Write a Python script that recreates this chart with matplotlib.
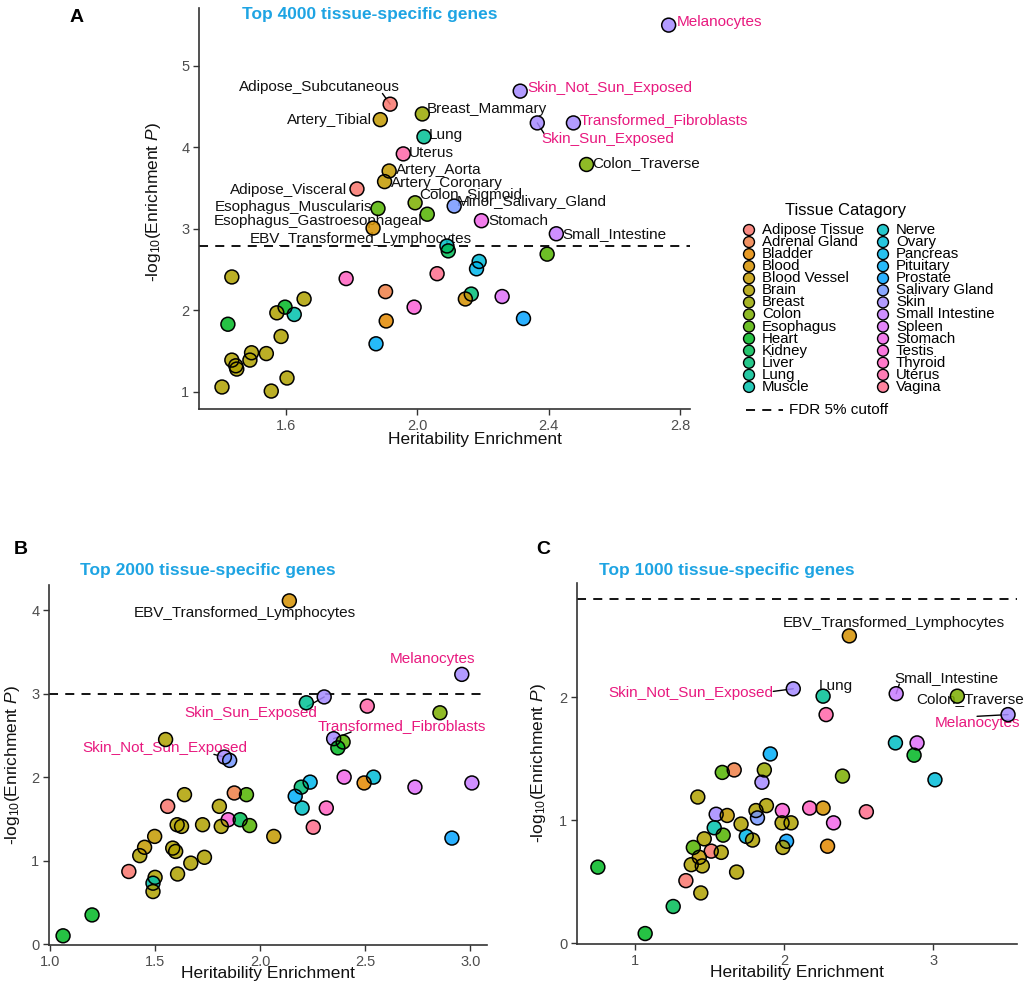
import numpy as np
import matplotlib
matplotlib.use("Agg")
import matplotlib.pyplot as plt

plt.rcParams['font.family'] = ['Liberation Sans', 'DejaVu Sans']
plt.rcParams['mathtext.fontset'] = 'custom'
plt.rcParams['mathtext.rm'] = 'Liberation Sans'
plt.rcParams['mathtext.it'] = 'Liberation Sans:italic'

categories = ['Adipose Tissue', 'Adrenal Gland', 'Bladder', 'Blood', 'Blood Vessel',
              'Brain', 'Breast', 'Colon', 'Esophagus', 'Heart', 'Kidney', 'Liver',
              'Lung', 'Muscle', 'Nerve', 'Ovary', 'Pancreas', 'Pituitary', 'Prostate',
              'Salivary Gland', 'Skin', 'Small Intestine', 'Spleen', 'Stomach',
              'Testis', 'Thyroid', 'Uterus', 'Vagina']

# ---- panel A: top 4000 tissue-specific genes ----
a_name = ['Melanocytes', 'Skin_Not_Sun_Exposed', 'Transformed_Fibroblasts', 'Skin_Sun_Exposed',
          'Colon_Traverse', 'Adipose_Subcutaneous', 'Breast_Mammary', 'Artery_Tibial', 'Lung',
          'Uterus', 'Artery_Aorta', 'Artery_Coronary', 'Adipose_Visceral', 'Colon_Sigmoid',
          'Minor_Salivary_Gland', 'Esophagus_Muscularis', 'Esophagus_Gastroesophageal', 'Stomach',
          'EBV_Transformed_Lymphocytes', 'Small_Intestine'] + [''] * 31
a_cat = ['Skin', 'Skin', 'Skin', 'Skin', 'Colon', 'Adipose Tissue', 'Breast', 'Blood Vessel',
         'Lung', 'Uterus', 'Blood Vessel', 'Blood Vessel', 'Adipose Tissue', 'Colon',
         'Salivary Gland', 'Esophagus', 'Esophagus', 'Stomach', 'Blood', 'Small Intestine',
         'Nerve', 'Kidney', 'Esophagus', 'Ovary', 'Pancreas', 'Vagina', 'Thyroid', 'Brain',
         'Adrenal Gland', 'Liver', 'Blood', 'Spleen', 'Brain', 'Heart', 'Brain', 'Muscle',
         'Testis', 'Prostate', 'Bladder', 'Heart', 'Brain', 'Pituitary', 'Brain', 'Brain',
         'Brain', 'Brain', 'Brain', 'Brain', 'Brain', 'Brain', 'Brain']
a_x = [2.765, 2.313, 2.475, 2.365, 2.515, 1.917, 2.015, 1.887, 2.02, 1.957, 1.914, 1.90,
       1.816, 1.993, 2.112, 1.88, 2.03, 2.195, 1.865, 2.423,
       2.09, 2.094, 2.395, 2.188, 2.18, 2.06, 1.783, 1.435, 1.903, 2.164, 2.146, 2.258,
       1.655, 1.597, 1.572, 1.625, 1.99, 2.323, 1.905, 1.423, 1.585, 1.874, 1.495, 1.54,
       1.435, 1.49, 1.447, 1.45, 1.603, 1.405, 1.555]
a_y = [5.50, 4.69, 4.30, 4.30, 3.79, 4.53, 4.41, 4.34, 4.13, 3.92, 3.71, 3.58, 3.49, 3.32,
       3.28, 3.25, 3.18, 3.10, 3.01, 2.94,
       2.79, 2.73, 2.69, 2.60, 2.51, 2.45, 2.39, 2.41, 2.23, 2.20, 2.14, 2.17, 2.14, 2.04,
       1.97, 1.95, 2.04, 1.90, 1.87, 1.83, 1.68, 1.59, 1.48, 1.47, 1.39, 1.39, 1.32, 1.28,
       1.17, 1.06, 1.01]
a_cutoff = 2.79

# ---- panel B: top 2000 tissue-specific genes ----
b_name = ['EBV_Transformed_Lymphocytes', 'Melanocytes', 'Skin_Sun_Exposed',
          'Transformed_Fibroblasts', 'Skin_Not_Sun_Exposed'] + [''] * 46
b_cat = ['Blood', 'Skin', 'Skin', 'Skin', 'Skin',
         'Lung', 'Uterus', 'Colon', 'Brain', 'Esophagus', 'Heart', 'Salivary Gland', 'Stomach',
         'Ovary', 'Bladder', 'Spleen', 'Small Intestine', 'Pancreas', 'Liver', 'Pituitary',
         'Nerve', 'Thyroid', 'Vagina', 'Prostate', 'Adrenal Gland', 'Esophagus', 'Kidney',
         'Esophagus', 'Testis', 'Blood Vessel', 'Adipose Tissue', 'Adipose Tissue', 'Heart',
         'Heart', 'Brain', 'Blood Vessel', 'Blood Vessel', 'Brain', 'Muscle', 'Brain', 'Brain',
         'Brain', 'Brain', 'Brain', 'Brain', 'Brain', 'Brain', 'Brain', 'Brain', 'Brain', 'Brain']
b_x = [2.139, 2.96, 2.305, 2.35, 1.83,
       2.22, 2.51, 2.856, 1.55, 2.395, 2.37, 1.855, 2.40, 2.54, 2.495, 2.737, 3.008, 2.238,
       2.196, 2.167, 2.2, 2.315, 2.253, 2.913, 1.877, 1.935, 1.905, 1.95, 1.848, 2.065, 1.56,
       1.375, 1.062, 1.2, 1.427, 1.45, 1.498, 1.5, 1.49, 1.49, 1.584, 1.598, 1.607, 1.605,
       1.626, 1.64, 1.67, 1.726, 1.735, 1.806, 1.815]
b_y = [4.11, 3.23, 2.96, 2.46, 2.24,
       2.89, 2.85, 2.77, 2.45, 2.42, 2.35, 2.20, 2.00, 2.00, 1.93, 1.88, 1.93, 1.94, 1.88,
       1.77, 1.63, 1.63, 1.40, 1.27, 1.81, 1.79, 1.49, 1.42, 1.49, 1.29, 1.65, 0.87, 0.10,
       0.35, 1.06, 1.16, 1.29, 0.80, 0.73, 0.63, 1.15, 1.11, 0.84, 1.43, 1.41, 1.79, 0.97,
       1.43, 1.04, 1.65, 1.41]
b_cutoff = 3.0

# ---- panel C: top 1000 tissue-specific genes ----
c_name = ['EBV_Transformed_Lymphocytes', 'Skin_Not_Sun_Exposed', 'Lung', 'Small_Intestine',
          'Colon_Traverse', 'Melanocytes'] + [''] * 45
c_cat = ['Blood', 'Skin', 'Lung', 'Small Intestine', 'Colon', 'Skin',
         'Uterus', 'Nerve', 'Spleen', 'Heart', 'Ovary', 'Pituitary', 'Colon', 'Esophagus',
         'Adrenal Gland', 'Breast', 'Skin', 'Brain', 'Heart', 'Heart', 'Kidney',
         'Adipose Tissue', 'Brain', 'Brain', 'Blood Vessel', 'Brain', 'Esophagus',
         'Adipose Tissue', 'Brain', 'Brain', 'Muscle', 'Esophagus', 'Skin', 'Blood Vessel',
         'Brain', 'Brain', 'Pancreas', 'Brain', 'Brain', 'Salivary Gland', 'Brain', 'Testis',
         'Brain', 'Brain', 'Prostate', 'Brain', 'Thyroid', 'Blood', 'Stomach', 'Bladder',
         'Vagina']
c_x = [2.436, 2.06, 2.26, 2.75, 3.16, 3.50,
       2.28, 2.745, 2.89, 2.87, 3.01, 1.906, 2.39, 1.584, 1.664, 1.866, 1.85, 1.42, 0.75,
       1.067, 1.255, 1.34, 1.44, 1.376, 1.43, 1.45, 1.39, 1.51, 1.577, 1.463, 1.53, 1.59,
       1.543, 1.617, 1.68, 1.71, 1.745, 1.787, 1.81, 1.82, 1.88, 1.987, 1.985, 2.045, 2.015,
       1.99, 2.17, 2.26, 2.33, 2.29, 2.55]
c_y = [2.50, 2.07, 2.01, 2.03, 2.01, 1.86,
       1.86, 1.63, 1.63, 1.53, 1.33, 1.54, 1.36, 1.39, 1.41, 1.41, 1.31, 1.19, 0.62, 0.08,
       0.30, 0.51, 0.41, 0.64, 0.70, 0.63, 0.78, 0.75, 0.74, 0.85, 0.94, 0.88, 1.05, 1.04,
       0.58, 0.97, 0.87, 0.84, 1.08, 1.02, 1.12, 1.08, 0.98, 0.98, 0.83, 0.78, 1.10, 1.10,
       0.98, 0.79, 1.07]
c_cutoff = 2.80


def hcl_hex(h, c=100.0, l=65.0):
    # ggplot2 hue palette colour (polar Luv -> sRGB)
    xn, yn, zn = 95.047, 100.0, 108.883
    un = 4 * xn / (xn + 15 * yn + 3 * zn)
    vn = 9 * yn / (xn + 15 * yn + 3 * zn)
    u = c * np.cos(np.deg2rad(h))
    v = c * np.sin(np.deg2rad(h))
    Y = yn * ((l + 16) / 116) ** 3
    up = u / (13 * l) + un
    vp = v / (13 * l) + vn
    X = 9 * Y * up / (4 * vp)
    Z = (9 * Y / vp - X - 15 * Y) / 3
    m = np.array([[3.2404542, -1.5371385, -0.4985314],
                  [-0.9692660, 1.8760108, 0.0415560],
                  [0.0556434, -0.2040259, 1.0572252]])
    rgb = m @ (np.array([X, Y, Z]) / 100)
    rgb = np.where(rgb <= 0.0031308, 12.92 * rgb, 1.055 * np.abs(rgb) ** (1 / 2.4) - 0.055)
    return tuple(np.clip(rgb, 0, 1))


palette = [hcl_hex(h) for h in np.linspace(15, 375, len(categories) + 1)[:-1]]
pink = '#e8197f'
point_alpha = 0.85

# label layout: name -> (dx px, dy px, ha, leader line start on the text box or None)
a_layout = {
    'Melanocytes': (8, 3, 'left', None),
    'Skin_Not_Sun_Exposed': (7, 3, 'left', None),
    'Transformed_Fibroblasts': (6, 3, 'left', None),
    'Skin_Sun_Exposed': (4, -16, 'left', (0.02, 0.9)),
    'Colon_Traverse': (6, 1, 'left', None),
    'Adipose_Subcutaneous': (10, 17, 'right', (0.89, 0.05)),
    'Breast_Mammary': (4, 5, 'left', None),
    'Artery_Tibial': (-8, 0, 'right', None),
    'Lung': (5, 2, 'left', None),
    'Uterus': (6, 1, 'left', None),
    'Artery_Aorta': (7, 1, 'left', None),
    'Artery_Coronary': (6, -1, 'left', None),
    'Adipose_Visceral': (-10, -1, 'right', None),
    'Colon_Sigmoid': (4, 8, 'left', None),
    'Minor_Salivary_Gland': (3, 4, 'left', None),
    'Esophagus_Muscularis': (-6, 1, 'right', None),
    'Esophagus_Gastroesophageal': (-5, -7, 'right', None),
    'Stomach': (7, 0, 'left', None),
    'EBV_Transformed_Lymphocytes': (-12, -11, 'center', None),
    'Small_Intestine': (6, 0, 'left', None),
}
b_layout = {
    'EBV_Transformed_Lymphocytes': (-45, -12, 'center', None),
    'Melanocytes': (-29, 15, 'center', None),
    'Skin_Sun_Exposed': (-73, -16, 'center', (0.92, 0.95)),
    'Transformed_Fibroblasts': (68, 13, 'center', (0.2, 0.05)),
    'Skin_Not_Sun_Exposed': (-60, 9, 'center', (0.8, 0.05)),
}
c_layout = {
    'EBV_Transformed_Lymphocytes': (44, 13, 'center', None),
    'Skin_Not_Sun_Exposed': (-20, -4, 'right', (1.0, 0.6)),
    'Lung': (13, 10, 'center', None),
    'Small_Intestine': (50, 16, 'center', (0.05, 0.05)),
    'Colon_Traverse': (13, -3, 'center', None),
    'Melanocytes': (-31, -8, 'center', (0.5, 0.95)),
}

W, H = 1035, 983
fig = plt.figure(figsize=(W / 100, H / 100), dpi=100)


def px_axes(left, top, right, bottom):
    return fig.add_axes([left / W, 1 - bottom / H, (right - left) / W, (bottom - top) / H])


def draw_panel(ax, names, cats, xs, ys, cutoff, layout, xlim, ylim, xticks, yticks, xfmt,
               xlab_pos, ylab_pos):
    ax.axhline(cutoff, color='black', lw=1.3, ls=(0, (5, 4)), zorder=1)
    colors = [palette[categories.index(c)] for c in cats]
    ax.scatter(xs, ys, s=100, c=colors, alpha=point_alpha, edgecolors='none', zorder=4)
    ax.scatter(xs, ys, s=100, facecolors='none', edgecolors='black', linewidths=1.1, zorder=5)
    for n, cat, x, y in zip(names, cats, xs, ys):
        if not n:
            continue
        dx, dy, ha, leader = layout[n]
        col = pink if cat == 'Skin' else '#111111'
        arrow = None
        if leader is not None:
            # segment ends at the point centre, hidden under the marker
            arrow = dict(arrowstyle='-', color='black', lw=1.0, shrinkA=0, shrinkB=0,
                         relpos=leader, patchA=None)
        ax.annotate(n, (x, y), xytext=(dx, dy), textcoords='offset pixels', ha=ha,
                    va='center', fontsize=11, color=col, zorder=3, arrowprops=arrow)
    ax.set_xlim(*xlim)
    ax.set_ylim(*ylim)
    ax.set_xticks(xticks)
    ax.set_xticklabels([xfmt.format(t) for t in xticks])
    ax.set_yticks(yticks)
    ax.set_yticklabels([str(t) for t in yticks])
    for s in ['top', 'right']:
        ax.spines[s].set_visible(False)
    for s in ['left', 'bottom']:
        ax.spines[s].set_color('#333333')
        ax.spines[s].set_linewidth(1.2)
    ax.tick_params(length=4, width=1, color='#333333', labelcolor='#4d4d4d',
                   labelsize=10.5, pad=3)
    ax.set_xlabel('Heritability Enrichment', fontsize=12.5, color='#111111')
    ax.set_ylabel(r'-log$_{10}$(Enrichment $P$)', fontsize=12.5, color='#111111')
    ax.xaxis.set_label_coords(*xlab_pos)
    ax.yaxis.set_label_coords(*ylab_pos)


ax_a = px_axes(199, 8, 690, 409)
draw_panel(ax_a, a_name, a_cat, a_x, a_y, a_cutoff, a_layout, (1.335, 2.83), (0.79, 5.71),
           [1.6, 2.0, 2.4, 2.8], [1, 2, 3, 4, 5], '{:.1f}', (0.563, -0.057), (-0.073, 0.515))

ax_b = px_axes(49, 585, 487, 945)
draw_panel(ax_b, b_name, b_cat, b_x, b_y, b_cutoff, b_layout, (0.995, 3.08), (-0.01, 4.3),
           [1.0, 1.5, 2.0, 2.5, 3.0], [0, 1, 2, 3, 4], '{:.1f}', (0.5, -0.058), (-0.062, 0.5))

ax_c = px_axes(577, 583, 1017, 944)
draw_panel(ax_c, c_name, c_cat, c_x, c_y, c_cutoff, c_layout, (0.61, 3.56), (-0.005, 2.93),
           [1, 2, 3], [0, 1, 2], '{:d}', (0.5, -0.057), (-0.066, 0.5))

# panel letters and titles
for letter, x, y in [('A', 77, 18), ('B', 21, 550), ('C', 543, 550)]:
    fig.text(x / W, 1 - y / H, letter, fontsize=14, fontweight='bold', ha='center', va='center')
title_col = '#1ea4e3'
for t, x, y in [('Top 4000 tissue-specific genes', 242, 14),
                ('Top 2000 tissue-specific genes', 80, 570),
                ('Top 1000 tissue-specific genes', 599, 570)]:
    fig.text(x / W, 1 - y / H, t, fontsize=12.5, fontweight='bold', color=title_col,
             ha='left', va='center')

# legend drawn in pixel coordinates
leg = px_axes(735, 195, 1030, 425)
leg.set_xlim(735, 1030)
leg.set_ylim(425, 195)
leg.axis('off')
leg.text(846, 211, 'Tissue Catagory', fontsize=12, ha='center', va='center')
rows = len(categories) // 2
for i, cat in enumerate(categories):
    col, row = divmod(i, rows)
    cx = 749 + col * 134
    cy = 230 + row * 12.07
    leg.scatter([cx], [cy], s=62, color=palette[i], alpha=point_alpha, edgecolors='none',
                clip_on=False)
    leg.scatter([cx], [cy], s=62, facecolors='none', edgecolors='black', linewidths=1.0,
                clip_on=False)
    leg.text(cx + 13, cy, cat, fontsize=10.8, ha='left', va='center')
leg.plot([746, 783], [410, 410], color='black', lw=1.3, ls=(0, (5, 4)))
leg.text(789, 410, 'FDR 5% cutoff', fontsize=11, ha='left', va='center')

fig.savefig('out.png', dpi=100)
